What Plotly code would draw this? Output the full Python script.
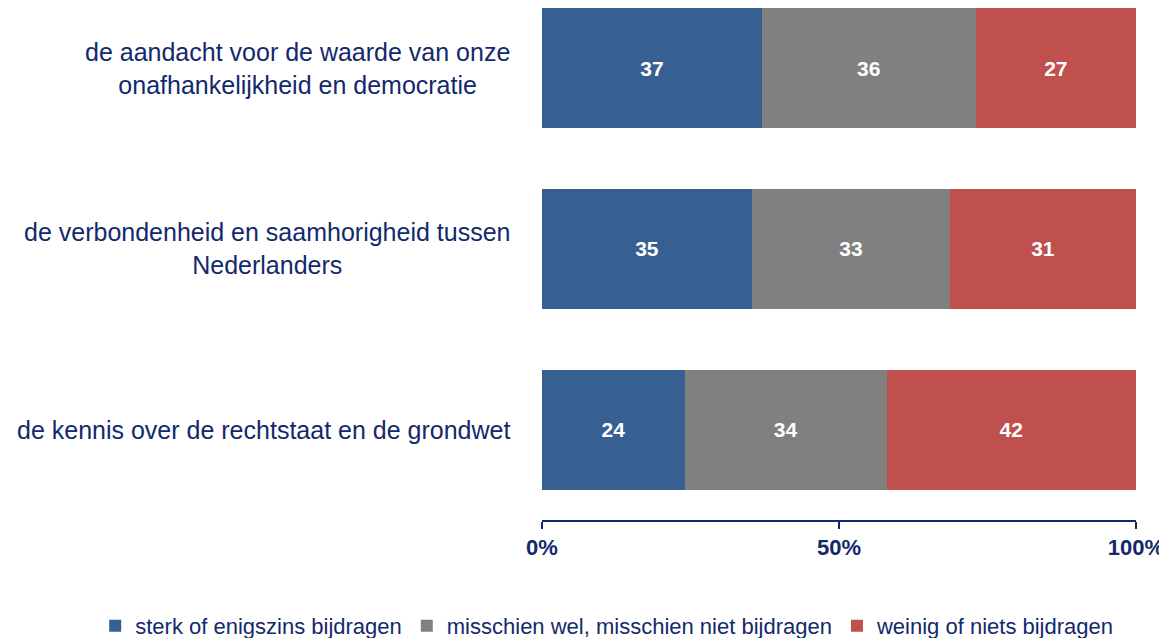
import plotly.graph_objects as go

# categorieen (van boven naar beneden)
vragen = [
    'de aandacht voor de waarde van onze<br>onafhankelijkheid en democratie',
    'de verbondenheid en saamhorigheid tussen<br>Nederlanders',
    'de kennis over de rechtstaat en de grondwet',
]

reeksen = ['sterk of enigszins bijdragen',
           'misschien wel, misschien niet bijdragen',
           'weinig of niets bijdragen']

sterk = [37, 35, 24]
misschien = [36, 33, 34]
weinig = [27, 31, 42]

kleuren = ['#376092', '#808080', '#C0504D']
navy = '#13296B'
font = 'Liberation Sans, Arial, sans-serif'

# de pagina heeft 8px body-marge, dus figuur iets kleiner
W, H = 1159, 630

fig = go.Figure()

for naam, waarden, kleur in zip(reeksen, [sterk, misschien, weinig], kleuren):
    fig.add_trace(go.Bar(
        y=vragen, x=waarden, name=naam, orientation='h',
        marker=dict(color=kleur, line=dict(width=0)),
        text=waarden, texttemplate='<b>%{text}</b>',
        textposition='inside', insidetextanchor='middle', textangle=0,
        textfont=dict(color='white', size=21, family=font),
        constraintext='none',
    ))

# labels links, gecentreerd per regel
for v in vragen:
    fig.add_annotation(
        x=0, xref='x domain', y=v, yref='y', text=v, showarrow=False,
        xanchor='right', xshift=-30, align='center',
        font=dict(size=25, color=navy, family=font),
    )

fig.update_layout(
    barmode='stack', barnorm='percent', bargap=0.336,
    width=W, height=H,
    margin=dict(l=0, r=0, t=0, b=118, autoexpand=False),
    plot_bgcolor='white', paper_bgcolor='white',
    font=dict(family=font, color=navy),
    legend=dict(orientation='h', x=0.517, xanchor='center',
                y=-0.207, yanchor='middle', traceorder='normal',
                font=dict(size=22, color=navy, family=font),
                itemwidth=30),
    showlegend=True,
)

fig.update_xaxes(
    domain=[534 / W, 1128 / W],
    range=[0, 100], tickvals=[0, 50, 100], ticktext=['<b>0%</b>', '<b>50%</b>', '<b>100%</b>'],
    showgrid=False, zeroline=False, showline=True, linecolor=navy, linewidth=1.5,
    ticks='outside', ticklen=7, tickcolor=navy, tickwidth=1.5,
    tickfont=dict(size=22, color=navy, family=font),
)
fig.update_yaxes(
    range=[2.5, -0.332], showticklabels=False, showgrid=False,
    zeroline=False, showline=False, ticks='',
)

fig.write_html("out.html")
